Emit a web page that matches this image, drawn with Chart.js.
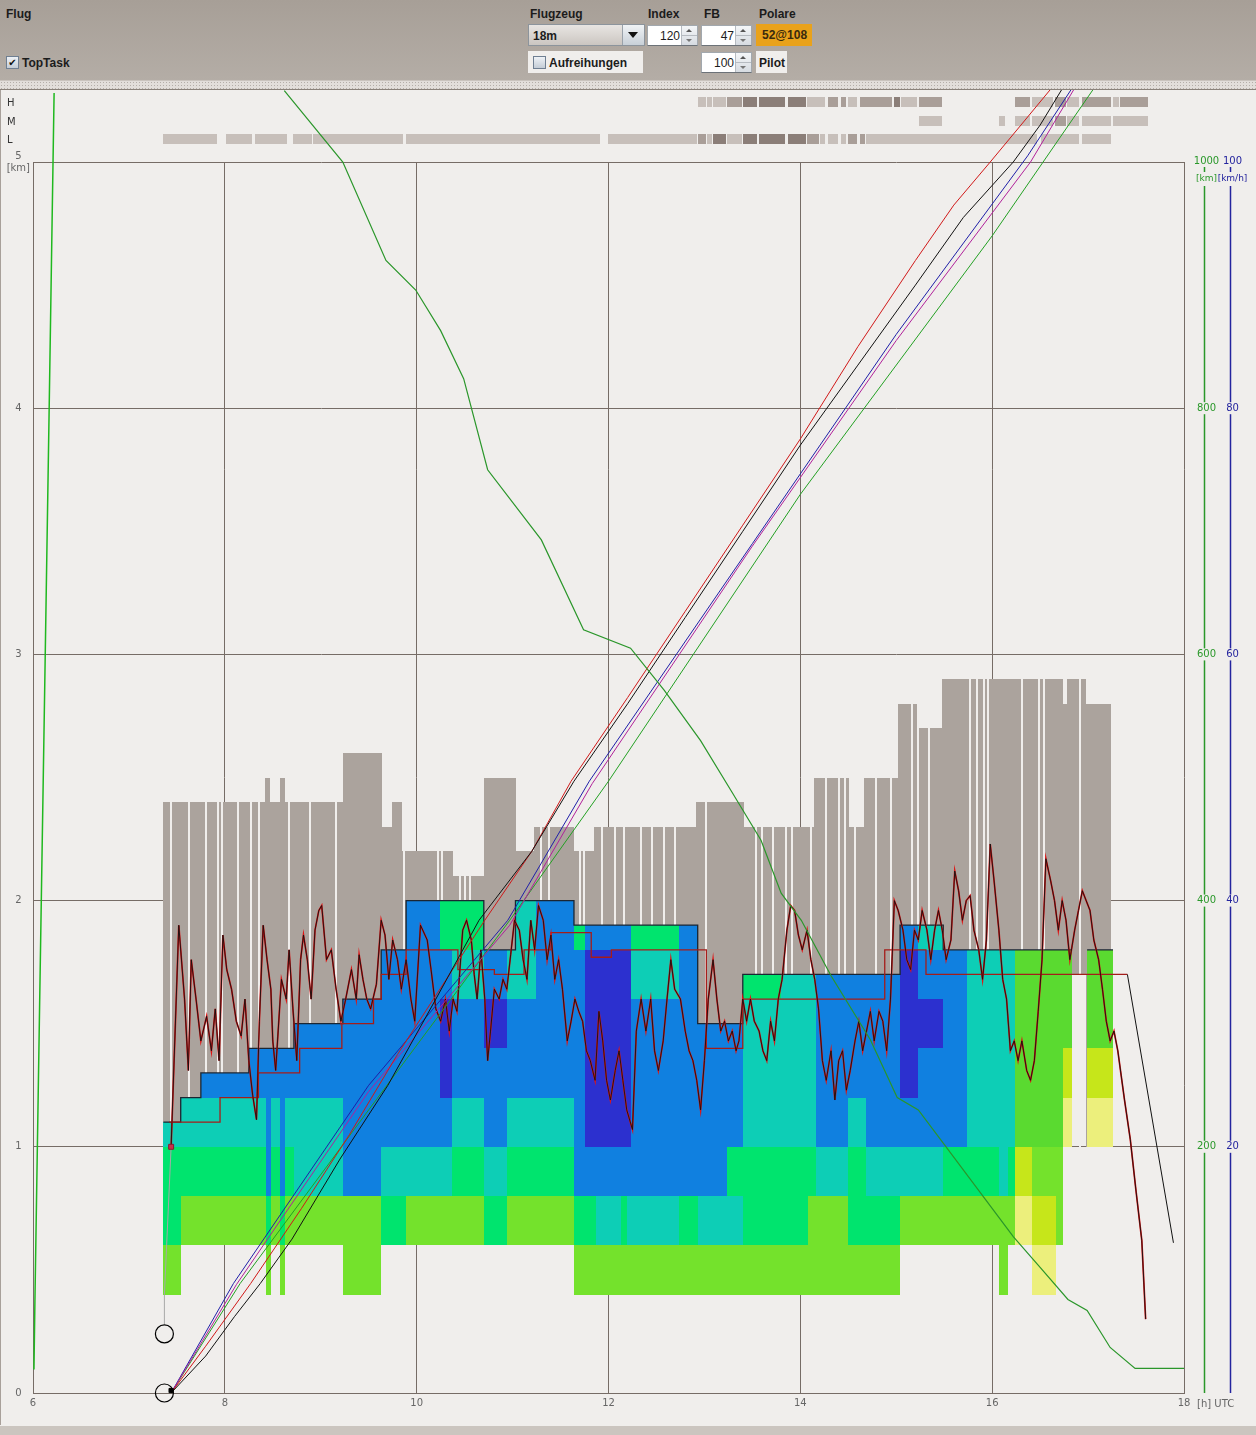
<!DOCTYPE html>
<html>
<head>
<meta charset="utf-8">
<title>TopTask</title>
<script src="https://cdn.jsdelivr.net/npm/chart.js@4.4.1/dist/chart.umd.min.js"></script>
<style>
  body { margin:0; width:1256px; height:1435px; position:relative; overflow:hidden; background:#f0eeec; font-family:"Liberation Sans", Arial, sans-serif; }
  .bar { position:absolute; left:0; top:0; width:1256px; height:80px; background:linear-gradient(#a79f97, #b4ada6); }
  .lbl { position:absolute; font-weight:bold; font-size:12px; color:#1c1c1c; white-space:nowrap; }
  .sep { position:absolute; left:0; top:80px; width:1256px; height:8px; background-color:#e2deda;
         background-image:radial-gradient(#b4aea8 0.7px, transparent 0.9px); background-size:3px 3px;
         border-top:1px solid #c9c3bd; border-bottom:1px solid #8a827a; }
  .chk { position:absolute; width:11px; height:11px; border:1px solid #6f7f92; background:linear-gradient(#eef2f6,#c4ccd6); font:bold 10px "DejaVu Sans"; line-height:11px; text-align:center; color:#111; }
  .combo { position:absolute; left:528px; top:24px; width:117px; height:22px; box-sizing:border-box; border:1px solid #8c949c; background:linear-gradient(#e8e5e2,#cbc6c1); }
  .combo .t { position:absolute; left:4px; top:4px; font-weight:bold; font-size:12px; color:#1c1c1c; }
  .combo .btn { position:absolute; right:0; top:0; width:21px; height:20px; border-left:1px solid #9aa2aa; background:linear-gradient(#f0f3f6,#c8d0d8); }
  .dn { position:absolute; width:0; height:0; border-left:5px solid transparent; border-right:5px solid transparent; border-top:6px solid #111; }
  .spin { position:absolute; width:51px; height:21px; box-sizing:border-box; background:#fff; border:1px solid #a2a8ae; border-bottom:1px solid #6c7278; }
  .spin .v { position:absolute; right:17px; top:3px; font-size:12px; color:#1c1c1c; }
  .spin .b { position:absolute; right:0; top:0; width:15px; height:19px; border-left:1px solid #b6bbc1; background:linear-gradient(#f4f6f8,#d6dbe1); }
  .spin .mid { position:absolute; right:0; top:9px; width:15px; height:1px; background:#b6bbc1; }
  .up { position:absolute; width:0; height:0; border-left:3px solid transparent; border-right:3px solid transparent; border-bottom:3px solid #555; }
  .dw { position:absolute; width:0; height:0; border-left:3px solid transparent; border-right:3px solid transparent; border-top:3px solid #777; }
  .plain { position:absolute; background:#f0eeec; }
  #wrap { position:absolute; left:0; top:90px; width:1256px; height:1335px; border-left:1px solid #a8a09a; box-sizing:border-box; }
  .foot { position:absolute; left:0; top:1426px; width:1256px; height:9px; background:#cbc5bf; }
</style>
</head>
<body>
<div class="bar"></div>
<div class="lbl" style="left:6px;top:7px">Flug</div>
<div class="chk" style="left:6px;top:56px">✔</div>
<div class="lbl" style="left:22px;top:56px">TopTask</div>

<div class="lbl" style="left:530px;top:7px">Flugzeug</div>
<div class="lbl" style="left:648px;top:7px">Index</div>
<div class="lbl" style="left:704px;top:7px">FB</div>
<div class="lbl" style="left:759px;top:7px">Polare</div>

<div class="combo"><div class="t">18m</div><div class="btn"><div class="dn" style="left:5px;top:7px"></div></div></div>

<div class="spin" style="left:647px;top:25px"><div class="v">120</div><div class="b"><div class="up" style="left:4px;top:3px"></div><div class="mid"></div><div class="dw" style="left:4px;top:13px"></div></div></div>
<div class="spin" style="left:701px;top:25px"><div class="v">47</div><div class="b"><div class="up" style="left:4px;top:3px"></div><div class="mid"></div><div class="dw" style="left:4px;top:13px"></div></div></div>
<div class="lbl" style="left:756px;top:24px;width:56px;height:22px;background:#e9a21b;color:#3a2a0e;line-height:22px;text-indent:6px">52@108</div>

<div class="plain" style="left:528px;top:51px;width:115px;height:22px"></div>
<div class="chk" style="left:533px;top:56px"></div>
<div class="lbl" style="left:549px;top:56px">Aufreihungen</div>
<div class="spin" style="left:701px;top:52px"><div class="v">100</div><div class="b"><div class="up" style="left:4px;top:3px"></div><div class="mid"></div><div class="dw" style="left:4px;top:13px"></div></div></div>
<div class="plain" style="left:756px;top:51px;width:31px;height:22px"></div>
<div class="lbl" style="left:759px;top:56px">Pilot</div>

<div class="sep"></div>
<div id="wrap"><canvas id="chart" width="1256" height="1335"></canvas></div>
<div class="foot"></div>

<script>
// ---- data (time in h UTC, heights in km, distances in km) ----
const xTicksUnit = "[h] UTC";
const kmTicks = [200, 400, 600, 800, 1000];
const speedTicks = [20, 40, 60, 80, 100];

// thermal cells: column edges and one colour code per 0.1 km from 0.4 km upward
const heatBase = 0.4;
const heatStep = 0.1;
const heatEdges = [7.36, 7.54, 7.75, 8.25, 8.43, 8.48, 8.58, 8.63, 8.72, 9.23, 9.63, 9.89, 10.24, 10.37, 10.70,
  10.94, 11.03, 11.24, 11.64, 11.76, 11.87, 12.13, 12.19, 12.23, 12.73, 12.93, 13.24, 13.40, 13.80, 14.08, 14.16,
  14.50, 14.68, 15.04, 15.23, 15.49, 15.74, 16.07, 16.16, 16.24, 16.42, 16.67, 16.74, 16.83, 16.99, 17.26];
const heatCodes = ["llggggt", "..llggtt", "..llggttb", "..llggttbb", "llggbbbbbb", "..llggttbb", "llggbbbbbb",
  "..llggttbb", "..llttttbbb", "llllbbbbbbbb", "..ggttbbbbbbbb", "..llttbbbbbbbbbb", "..llttbbddddbbgg",
  "..llggttbbbbttgg", "..ggttbbbbddbb", "..llggttbbbbtt", "..llggttbbbbtttt", "..llggttbbbbbbbb",
  "llggbbbbbbbbbbg", "llggbbddddddddb", "llttbbddddddddb", "llggbbddddddddb", "llttbbddddddddb",
  "llttbbbbbbbbttg", "llggbbbbbbbbbbb", "llttbbbbbbb", "llttggbbbbb", "llggggttttttg", "llggggttttttt",
  "llllggttttttt", "llllttbbbbbbb", "llggggttbbbbb", "llggttbbbbbbb", "..llttbbddddddb", "..llttbbbbddbbt",
  "..llggbbbbbbbb", "..llggtttttttt", "lllltttttttttt", "..llggtttttttt", "..ppyymmmmmmmm", "ppyyllmmmmmmmm",
  "..llllmmmmmmmm", "......ppyymmmm", "", "......ppyymmmm"];

// cloud columns (grey): start, end is next start, base and top in km
const grayStart = [7.36, 8.42, 8.47, 8.57, 8.63, 9.23, 9.64, 9.74, 9.85, 10.38, 10.70, 11.04, 11.22, 11.64, 11.85,
  12.91, 13.41, 14.14, 14.51, 14.66, 15.02, 15.24, 15.48, 16.74, 16.78, 16.83, 16.98, 17.24];
const grayTop = [2.4, 2.5, 2.4, 2.5, 2.4, 2.6, 2.3, 2.4, 2.2, 2.1, 2.5, 2.2, 2.3, 2.2, 2.3, 2.4, 2.3, 2.5, 2.3, 2.5,
  2.8, 2.7, 2.9, 2.8, 2.9, 2.9, 2.8];
const grayBase = [1.0, 1.0, 1.0, 1.0, 1.0, 1.0, 1.0, 1.0, 1.0, 1.0, 1.0, 1.0, 1.0, 1.0, 1.0, 1.0, 1.0, 1.0, 1.0, 1.0,
  1.0, 1.0, 1.0, 1.0, 1.0, 1.7, 1.0];
const grayGaps = [7.44, 7.63, 7.80, 7.93, 7.97, 8.14, 8.27, 8.36, 8.67, 8.89, 9.16, 9.87, 10.22, 10.26, 10.45, 10.50,
  10.56, 11.30, 11.38, 11.70, 11.74, 11.93, 12.07, 12.16, 12.34, 12.45, 12.58, 12.69, 13.02, 13.54, 13.60, 13.71,
  13.85, 13.91, 14.11, 14.27, 14.40, 14.47, 14.57, 14.79, 14.95, 15.16, 15.23, 15.34, 15.77, 15.84, 15.92, 15.96,
  16.31, 16.49, 16.54, 16.92];

// H / M / L cloud strips: [start, end, shade]
const rowH = [[12.93,13.03,1],[13.03,13.09,1],[13.09,13.24,1],[13.24,13.40,2],[13.40,13.56,3],[13.57,13.85,3],
  [13.87,14.07,3],[14.07,14.27,1],[14.29,14.40,2],[14.42,14.49,2],[14.50,14.60,1],[14.62,14.97,2],[14.98,15.05,3],
  [15.05,15.23,1],[15.24,15.49,2],[16.24,16.40,2],[16.42,16.64,1],[16.66,16.78,2],[16.78,16.92,1],[16.94,17.25,2],
  [17.26,17.33,1],[17.33,17.63,2]];
const rowM = [[15.24,15.49,1],[16.07,16.14,1],[16.24,16.40,1],[16.42,16.64,1],[16.66,16.78,2],[16.78,16.92,1],
  [16.94,17.25,1],[17.26,17.63,1]];
const rowL = [[7.36,7.93,1],[8.01,8.29,1],[8.31,8.66,1],[8.71,8.92,1],[8.92,9.87,1],[9.89,11.92,1],[11.99,12.93,1],
  [12.93,13.03,2],[13.03,13.09,1],[13.09,13.24,3],[13.24,13.40,1],[13.40,13.56,3],[13.57,13.85,3],[13.87,14.07,3],
  [14.07,14.21,2],[14.21,14.27,1],[14.29,14.40,1],[14.42,14.49,1],[14.50,14.60,2],[14.62,14.68,2],[14.68,16.48,1],
  [16.51,16.92,1],[16.94,17.25,1]];

// barogram [h, km]
const barogram = [[7.44,1.00],[7.52,1.90],[7.58,1.60],[7.62,1.31],[7.65,1.76],[7.70,1.60],[7.75,1.43],[7.81,1.53],
  [7.86,1.39],[7.90,1.56],[7.94,1.35],[7.98,1.86],[8.02,1.72],[8.07,1.64],[8.12,1.51],[8.17,1.45],[8.21,1.60],
  [8.25,1.35],[8.29,1.21],[8.33,1.11],[8.36,1.51],[8.40,1.90],[8.44,1.76],[8.48,1.64],[8.50,1.43],[8.53,1.31],
  [8.59,1.68],[8.64,1.60],[8.67,1.80],[8.71,1.56],[8.75,1.35],[8.79,1.76],[8.82,1.86],[8.86,1.76],[8.90,1.60],
  [8.94,1.88],[8.98,1.96],[9.01,1.98],[9.06,1.76],[9.11,1.80],[9.16,1.64],[9.21,1.51],[9.26,1.60],[9.32,1.72],
  [9.37,1.60],[9.40,1.78],[9.44,1.68],[9.48,1.60],[9.52,1.56],[9.58,1.66],[9.63,1.92],[9.67,1.86],[9.71,1.68],
  [9.75,1.84],[9.80,1.76],[9.84,1.64],[9.89,1.76],[9.94,1.60],[9.98,1.51],[10.04,1.90],[10.11,1.84],[10.15,1.72],
  [10.20,1.56],[10.25,1.51],[10.30,1.60],[10.34,1.47],[10.38,1.60],[10.42,1.55],[10.48,1.88],[10.52,1.92],
  [10.57,1.84],[10.60,1.70],[10.63,1.60],[10.67,1.80],[10.71,1.60],[10.74,1.35],[10.77,1.47],[10.81,1.64],
  [10.86,1.60],[10.90,1.68],[10.94,1.64],[10.98,1.78],[11.02,1.92],[11.07,1.88],[11.11,1.76],[11.15,1.68],
  [11.19,1.92],[11.23,1.80],[11.27,1.98],[11.32,1.92],[11.36,1.76],[11.40,1.86],[11.44,1.68],[11.48,1.76],
  [11.52,1.64],[11.57,1.43],[11.61,1.51],[11.65,1.60],[11.69,1.55],[11.73,1.51],[11.77,1.39],[11.81,1.35],
  [11.86,1.27],[11.90,1.55],[11.94,1.43],[11.98,1.27],[12.02,1.19],[12.07,1.31],[12.11,1.39],[12.15,1.27],
  [12.19,1.15],[12.25,1.07],[12.29,1.47],[12.34,1.60],[12.39,1.47],[12.44,1.60],[12.48,1.39],[12.52,1.31],
  [12.57,1.43],[12.61,1.60],[12.65,1.76],[12.69,1.64],[12.75,1.60],[12.80,1.47],[12.84,1.39],[12.88,1.35],
  [12.92,1.27],[12.96,1.15],[13.00,1.35],[13.04,1.60],[13.09,1.76],[13.13,1.60],[13.17,1.47],[13.21,1.51],
  [13.25,1.43],[13.29,1.47],[13.33,1.39],[13.36,1.43],[13.40,1.60],[13.44,1.51],[13.48,1.60],[13.52,1.51],
  [13.57,1.47],[13.61,1.39],[13.65,1.35],[13.69,1.51],[13.73,1.43],[13.77,1.60],[13.81,1.68],[13.86,1.88],
  [13.90,1.98],[13.94,1.96],[13.98,1.86],[14.02,1.80],[14.07,1.88],[14.11,1.76],[14.15,1.68],[14.19,1.56],
  [14.23,1.35],[14.27,1.27],[14.32,1.39],[14.36,1.19],[14.40,1.35],[14.44,1.39],[14.48,1.23],[14.52,1.31],
  [14.57,1.43],[14.61,1.51],[14.65,1.39],[14.69,1.47],[14.73,1.55],[14.77,1.43],[14.82,1.55],[14.86,1.51],
  [14.90,1.39],[14.94,1.60],[14.98,2.00],[15.02,1.96],[15.07,1.88],[15.11,1.76],[15.15,1.72],[15.19,1.88],
  [15.23,1.84],[15.27,1.96],[15.32,1.88],[15.36,1.76],[15.40,1.88],[15.44,1.96],[15.48,1.88],[15.52,1.76],
  [15.57,1.84],[15.61,2.12],[15.65,2.04],[15.69,1.92],[15.73,2.00],[15.77,2.02],[15.81,1.88],[15.86,1.80],
  [15.90,1.68],[15.94,1.84],[15.98,2.23],[16.02,2.08],[16.07,1.88],[16.11,1.68],[16.15,1.60],[16.19,1.39],
  [16.23,1.43],[16.27,1.35],[16.31,1.43],[16.36,1.31],[16.40,1.27],[16.44,1.35],[16.48,1.55],[16.52,1.76],
  [16.56,2.17],[16.61,2.08],[16.65,2.00],[16.69,1.88],[16.73,2.00],[16.77,1.92],[16.81,1.76],[16.86,1.88],
  [16.90,1.96],[16.94,2.04],[16.98,2.00],[17.02,1.96],[17.06,1.84],[17.11,1.76],[17.15,1.64],[17.19,1.51],
  [17.23,1.43],[17.27,1.47],[17.31,1.39],[17.38,1.19],[17.44,1.03],[17.50,0.82],[17.56,0.62],[17.60,0.30]];

// working height steps (red) and final glide
const stepTime = [7.42, 7.95, 8.35, 8.78, 9.22, 9.55, 9.63, 9.89, 10.43, 10.81, 11.12, 11.40, 11.82, 12.03, 13.02,
  13.40, 14.88, 15.31, 17.41];
const stepHeight = [1.1, 1.2, 1.3, 1.4, 1.5, 1.6, 1.7, 1.8, 1.72, 1.7, 1.8, 1.87, 1.77, 1.8, 1.4, 1.6, 1.8, 1.7, 1.7];
const glideTime = [17.41, 17.89];
const glideHeight = [1.70, 0.61];

// distance flown (km) for several tracks
const distBlackT = [7.44, 7.8, 8.1, 8.37, 8.7, 9.2, 9.7, 10.2, 10.65, 11.2, 11.64, 12.2, 12.8, 13.4, 14.0, 14.6, 15.2, 15.7, 16.22, 16.5, 16.75];
const distBlack = [0, 30, 62, 89, 125, 190, 250, 320, 384, 440, 497, 560, 630, 700, 770, 835, 900, 955, 1000, 1030, 1062];
const distRedT = [7.44, 7.8, 8.27, 8.8, 9.3, 9.8, 10.3, 10.71, 11.2, 11.61, 12.2, 12.8, 13.4, 14.0, 14.6, 15.2, 15.6, 15.98, 16.3, 16.64];
const distRed = [0, 38, 89, 150, 210, 275, 335, 384, 440, 497, 565, 635, 705, 775, 850, 920, 965, 1000, 1030, 1062];
const distBlueT = [7.44, 8.09, 9.5, 10.95, 11.8, 13.5, 15.0, 16.37, 16.85];
const distBlue = [0, 89, 250, 384, 497, 690, 860, 1005, 1062];
const distMagT = [7.44, 8.12, 9.5, 10.97, 11.83, 13.5, 15.0, 16.4, 16.86];
const distMag = [0, 88, 245, 380, 495, 688, 855, 1000, 1060];
const distGreenT = [7.44, 8.16, 9.5, 10.97, 12.0, 14.0, 16.0, 17.08];
const distGreen = [0, 89, 230, 384, 497, 730, 940, 1062];
// remaining distance (km)
const remainT = [8.62, 9.23, 9.68, 9.99, 10.25, 10.49, 10.74, 11.30, 11.74, 12.23, 12.58, 12.96, 13.28, 13.59, 13.80,
  14.01, 14.32, 14.73, 15.01, 15.23, 15.49, 16.22, 16.50, 16.79, 16.99, 17.23, 17.49, 18.0];
const remainKm = [1058, 1000, 920, 896, 863, 824, 750, 693, 620, 605, 571, 530, 489, 449, 406, 384, 339, 287, 240, 230,
  203, 127, 102, 76, 67, 37, 20, 20];
const towT = [6.01, 6.02, 6.07, 6.12, 6.17, 6.22];
const towKm = [19, 75, 320, 563, 807, 1056];
// start / release markers
const markT = [7.37, 7.37];
const markH = [0.24, 0.0];
const startT = [7.37, 7.37, 7.44];
const startH = [0.28, 0.40, 1.0];

// ---- styles ----
const gridColor = "#766c66";
const bgColor = "#f0eeec";
const heatColors = { l: "#74e22c", g: "#00e46e", t: "#0dceb6", b: "#1080e0", d: "#2c30cf", m: "#5ada30", y: "#c6e61a", p: "#ecef7c" };
const grayColor = "#aba39d";
const shadeColors = { 1: "#c7bfba", 2: "#a99e98", 3: "#8b7e78" };

Chart.defaults.font.family = "DejaVu Sans";
Chart.defaults.font.size = 10;
Chart.defaults.color = "#666";

const pts = (ts, vs) => ts.map((t, i) => ({ x: t, y: vs[i] }));

const outline = [];
heatCodes.forEach((codes, i) => {
  if (!codes) { outline.push({ x: heatEdges[i], y: null }); return; }
  const top = heatBase + codes.length * heatStep;
  outline.push({ x: heatEdges[i], y: top }, { x: heatEdges[i + 1], y: top });
});

const backdrop = {
  id: "backdrop",
  beforeDatasetsDraw(chart) {
    const ctx = chart.ctx, xs = chart.scales.x, ys = chart.scales.y, area = chart.chartArea;
    const px = v => Math.round(xs.getPixelForValue(v));
    const py = v => Math.round(ys.getPixelForValue(v));
    ctx.save();
    // cloud columns
    ctx.fillStyle = grayColor;
    for (let i = 0; i < grayTop.length; i++) {
      const x0 = px(grayStart[i]), x1 = px(grayStart[i + 1]);
      ctx.fillRect(x0, py(grayTop[i]), x1 - x0, py(grayBase[i]) - py(grayTop[i]));
    }
    ctx.fillStyle = bgColor;
    grayGaps.forEach(t => {
      let k = 0;
      while (k < grayTop.length - 1 && grayStart[k + 1] <= t) k++;
      ctx.fillRect(px(t) - 1, py(grayTop[k]), 2, py(1.0) - py(grayTop[k]));
    });
    // thermal cells
    heatCodes.forEach((codes, i) => {
      const x0 = px(heatEdges[i]), x1 = px(heatEdges[i + 1]);
      for (let k = 0; k < codes.length; k++) {
        const c = codes[k];
        if (c === ".") continue;
        const z0 = heatBase + k * heatStep;
        const y0 = py(z0 + heatStep), y1 = py(z0);
        ctx.fillStyle = heatColors[c];
        ctx.fillRect(x0, y0, x1 - x0, y1 - y0);
      }
    });
    // H / M / L strips above the plot
    const rows = [[rowH, 65, "H"], [rowM, 46, "M"], [rowL, 28, "L"]];
    rows.forEach(([row, off, name]) => {
      const top = area.top - off;
      row.forEach(([a, b, s]) => {
        ctx.fillStyle = shadeColors[s];
        const x0 = px(a), x1 = px(b);
        ctx.fillRect(x0, top, Math.max(1, x1 - x0 - 1), 10);
      });
      ctx.fillStyle = "#333";
      ctx.font = "10px 'DejaVu Sans'";
      ctx.textBaseline = "middle";
      ctx.textAlign = "left";
      ctx.fillText(name, 6, top + 6);
    });
    ctx.restore();
  },
  afterDraw(chart) {
    const ctx = chart.ctx, area = chart.chartArea;
    const axes = [
      { id: "yd", ticks: kmTicks, unit: "[km]", color: "#2a982a", offset: 20 },
      { id: "ys", ticks: speedTicks, unit: "[km/h]", color: "#24249e", offset: 46 }
    ];
    ctx.save();
    ctx.textAlign = "center";
    ctx.textBaseline = "middle";
    axes.forEach(ax => {
      const sc = chart.scales[ax.id];
      const x = Math.round(area.right + ax.offset) + 0.5;
      const top = sc.getPixelForValue(sc.max);
      ctx.strokeStyle = ax.color;
      ctx.lineWidth = 1.5;
      ctx.beginPath();
      ctx.moveTo(x, top + 5); ctx.lineTo(x, top + 10);
      ctx.moveTo(x, top + 24); ctx.lineTo(x, area.bottom);
      ctx.stroke();
      ctx.font = "10px 'DejaVu Sans'";
      ax.ticks.forEach(v => {
        const y = sc.getPixelForValue(v);
        const label = String(v);
        const w = ctx.measureText(label).width;
        if (v !== sc.max) {
          ctx.fillStyle = bgColor;
          ctx.fillRect(x + 2 - w / 2 - 1, y - 6, w + 2, 12);
        }
        ctx.fillStyle = ax.color;
        ctx.fillText(label, x + 2, y - (v === sc.max ? 1 : 0));
      });
      ctx.font = "9px 'DejaVu Sans'";
      ctx.fillText(ax.unit, x + 2, top + 17);
    });
    ctx.font = "10px 'DejaVu Sans'";
    ctx.fillStyle = "#666";
    ctx.textAlign = "left";
    ctx.fillText(xTicksUnit, area.right + 13, area.bottom + 11);
    ctx.restore();
  }
};

const line = (data, color, width, order, extra) => Object.assign({
  data, borderColor: color, borderWidth: width, pointRadius: 0, order, clip: false, tension: 0, fill: false
}, extra || {});

new Chart(document.getElementById("chart"), {
  type: "line",
  data: {
    datasets: [
      line(outline, "#1b2633", 1.3, 20),
      line(pts(stepTime, stepHeight), "#a51d1a", 1.3, 19, { stepped: true }),
      line(barogram.map(([t, h]) => ({ x: t, y: h })), "#e01414", 1.7, 18),
      line(barogram.map(([t, h]) => ({ x: t, y: h })), "#111111", 0.9, 17),
      line(pts(glideTime, glideHeight), "#111111", 1, 16),
      line(pts(startT, startH), "#a8a8a8", 1, 15),
      line(pts(distGreenT, distGreen), "#23a023", 1, 14, { yAxisID: "yd" }),
      line(pts(distBlueT, distBlue), "#1f1fa8", 1, 13, { yAxisID: "yd" }),
      line(pts(distMagT, distMag), "#b0209a", 1, 12, { yAxisID: "yd" }),
      line(pts(distRedT, distRed), "#d01818", 1, 11, { yAxisID: "yd" }),
      line(pts(distBlackT, distBlack), "#111111", 1, 10, { yAxisID: "yd" }),
      line(pts(remainT, remainKm), "#2a962a", 1.2, 9, { yAxisID: "yd" }),
      line(pts(towT, towKm), "#1fb81f", 1.5, 8, { yAxisID: "yd" }),
      line(pts(markT, markH), "#000", 1, 2, { showLine: false, pointRadius: 9, pointStyle: "circle",
        pointBackgroundColor: "rgba(0,0,0,0)", pointBorderColor: "#000", pointBorderWidth: 1.2 }),
      line([{ x: markT[1] + 0.07, y: 0.01 }], "#000", 1, 1, { showLine: false, pointRadius: 3, pointStyle: "rect",
        pointBackgroundColor: "#000", pointBorderColor: "#000" }),
      line([{ x: startT[2], y: startH[2] }], "#c8304a", 1, 1, { showLine: false, pointRadius: 3.5, pointStyle: "rect",
        pointBackgroundColor: "#c8304a", pointBorderColor: "#8a1a30" })
    ]
  },
  options: {
    responsive: false,
    animation: false,
    devicePixelRatio: 1,
    layout: { padding: { left: 4, right: 73, top: 72, bottom: 0 } },
    plugins: { legend: { display: false }, tooltip: { enabled: false } },
    scales: {
      x: {
        type: "linear", min: 6, max: 18,
        afterFit(s) { s.height = 32; },
        ticks: { stepSize: 2, padding: 4, color: "#666", maxRotation: 0 },
        grid: { color: gridColor, drawTicks: false },
        border: { color: gridColor }
      },
      y: {
        type: "linear", min: 0, max: 5,
        afterFit(s) { s.width = 28; },
        ticks: { stepSize: 1, crossAlign: "center", color: "#666",
          callback: v => (v === 5 ? ["5", "[km]"] : String(v)) },
        grid: { color: gridColor, drawTicks: false },
        border: { color: gridColor }
      },
      yd: { type: "linear", axis: "y", position: "right", display: false, min: 0, max: 1000 },
      ys: { type: "linear", axis: "y", position: "right", display: false, min: 0, max: 100 }
    }
  },
  plugins: [backdrop]
});
</script>
</body>
</html>
